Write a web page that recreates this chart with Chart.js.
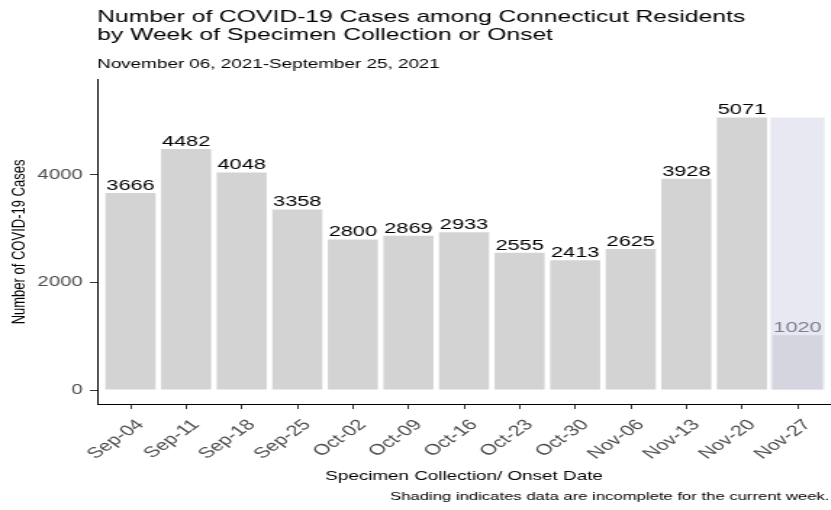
<!DOCTYPE html>
<html>
<head>
<meta charset="utf-8">
<title>COVID-19 Cases among Connecticut Residents</title>
<script src="https://cdn.jsdelivr.net/npm/chart.js@4.4.1/dist/chart.umd.min.js"></script>
<style>
    html, body { margin: 0; padding: 0; background: #fff; overflow: hidden; }
    /* the picture is stretched sideways, so draw it narrow and widen it */
    #wrap { width: 573px; height: 510px; transform: scaleX(1.45); transform-origin: 0 0; }
</style>
</head>
<body>
<div id="wrap"><canvas id="casesChart"></canvas></div>
<script>
// Chart data
const weeks = ['Sep-04', 'Sep-11', 'Sep-18', 'Sep-25', 'Oct-02', 'Oct-09', 'Oct-16',
               'Oct-23', 'Oct-30', 'Nov-06', 'Nov-13', 'Nov-20', 'Nov-27'];
const cases = [3666, 4482, 4048, 3358, 2800, 2869, 2933, 2555, 2413, 2625, 3928, 5071, 1020];
const yTicks = [0, 2000, 4000];
const incompleteWeek = 'Nov-27';

const FONT = '"Liberation Sans", Arial, sans-serif';
Chart.defaults.font.family = FONT;

// Numbers over the bars
const barLabels = {
    id: 'barLabels',
    afterDatasetsDraw(chart) {
        const ctx = chart.ctx;
        const meta = chart.getDatasetMeta(0);
        ctx.save();
        ctx.font = '15px ' + FONT;
        ctx.textAlign = 'center';
        ctx.textBaseline = 'alphabetic';
        meta.data.forEach((bar, i) => {
            ctx.fillStyle = weeks[i] === incompleteWeek ? '#80808c' : '#000';
            ctx.fillText(cases[i], bar.x, bar.y - 3);
        });
        ctx.restore();
    }
};

// Caption in the bottom right corner
const caption = {
    id: 'caption',
    afterDraw(chart) {
        const ctx = chart.ctx;
        ctx.save();
        ctx.font = '11.5px ' + FONT;
        ctx.fillStyle = '#000';
        ctx.textAlign = 'right';
        ctx.textBaseline = 'middle';
        ctx.fillText('Shading indicates data are incomplete for the current week.', chart.width - 1, 497);
        ctx.restore();
    }
};

const ctx = document.getElementById('casesChart').getContext('2d');
const casesChart = new Chart(ctx, {
    type: 'bar',
    data: {
        datasets: [{
            label: 'Cases',
            data: cases.map((v, i) => ({ x: i, y: v })),
            backgroundColor: weeks.map(w => w === incompleteWeek ? '#d5d5e0' : '#d3d3d3'),
            barPercentage: 0.9,
            categoryPercentage: 1,
            grouped: false,
            order: 1
        }, {
            label: 'Incomplete',
            data: [{ x: weeks.indexOf(incompleteWeek), y: Math.max(...cases) }],
            backgroundColor: '#e8e8f3',
            barPercentage: 0.97,
            categoryPercentage: 1,
            grouped: false,
            order: 2
        }]
    },
    options: {
        responsive: true,
        maintainAspectRatio: false,
        animation: false,
        devicePixelRatio: 1,
        layout: { padding: { top: 0, left: 0, right: 0, bottom: 26 } },
        plugins: {
            legend: { display: false },
            tooltip: { enabled: false },
            title: {
                display: true,
                text: ['Number of COVID-19 Cases among Connecticut Residents', 'by Week of Specimen Collection or Onset'],
                align: 'start',
                fullSize: false,
                color: '#000',
                font: { size: 17, weight: 'normal', lineHeight: 1.03 },
                padding: { top: 9, bottom: 0 }
            },
            subtitle: {
                display: true,
                text: 'November 06, 2021-September 25, 2021',
                align: 'start',
                fullSize: false,
                color: '#000',
                font: { size: 13, lineHeight: 1.15 },
                padding: { top: 13, bottom: 8 }
            }
        },
        scales: {
            x: {
                type: 'linear',
                offset: false,
                min: -0.6,
                max: weeks.length - 0.4,
                afterBuildTicks: axis => { axis.ticks = weeks.map((w, i) => ({ value: i })); },
                afterFit: axis => { axis.height = 80; },
                ticks: {
                    autoSkip: false,
                    minRotation: 45,
                    maxRotation: 45,
                    padding: 7,
                    labelOffset: 7,
                    color: '#4d4d4d',
                    font: { size: 15 },
                    callback: v => weeks[v]
                },
                grid: { offset: false, drawOnChartArea: false, drawTicks: true, tickLength: 5, color: '#333' },
                border: { display: true, color: '#000', width: 1 },
                title: {
                    display: true,
                    text: 'Specimen Collection/ Onset Date',
                    color: '#000',
                    font: { size: 13 },
                    padding: { top: 0, bottom: 0 }
                }
            },
            y: {
                min: -260,
                max: 5767,
                afterBuildTicks: axis => { axis.ticks = yTicks.map(v => ({ value: v })); },
                afterFit: axis => { axis.width = 67; },
                ticks: {
                    padding: 5,
                    color: '#4d4d4d',
                    font: { size: 14 },
                    callback: v => String(v)
                },
                grid: { drawOnChartArea: false, drawTicks: true, tickLength: 5, color: '#333' },
                border: { display: true, color: '#000', width: 1 },
                title: {
                    display: true,
                    text: 'Number of COVID-19 Cases',
                    color: '#000',
                    font: { size: 13 },
                    padding: { top: 6, bottom: 0 }
                }
            }
        }
    },
    plugins: [barLabels, caption]
});
</script>
</body>
</html>
